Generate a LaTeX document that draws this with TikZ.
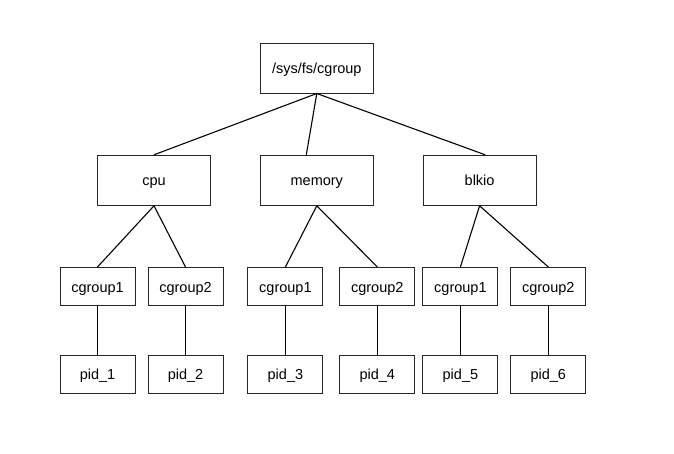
\documentclass[tikz,border=0pt]{standalone}
\usepackage{fontspec}
\setmainfont{Liberation Sans}
\usetikzlibrary{calc}

\begin{document}
\begin{tikzpicture}[x=1pt, y=-1pt]
    % ================= 样式定义 =================
    \tikzset{
        % 目录节点:白底黑边大矩形
        dirnode/.style={rectangle, draw=black!85, line width=1pt, fill=white, minimum width=113pt, minimum height=50pt, inner sep=0pt, text height=14pt, text depth=3pt, font=\fontsize{14.5}{17}\selectfont},
        % cgroup / pid 节点:小矩形
        leafnode/.style={dirnode, minimum width=75pt, minimum height=38pt},
        % 树边
        tree_edge/.style={line width=1.1pt, black}
    }
    \useasboundingbox (0,0) rectangle (674,453);

    % ================= 根节点 =================
    \node[dirnode] (root) at (316.8,68) {/sys/fs/cgroup};

    % ================= 子系统 =================
    \node[dirnode] (cpu) at (154,180.3) {cpu};
    \node[dirnode] (memory) at (316.8,180.3) {memory};
    \node[dirnode] (blkio) at (479.6,180.3) {blkio};

    \draw[tree_edge] (root.south) -- (cpu.north);
    \draw[tree_edge] (root.south) -- ([xshift=-10.5pt]memory.north);
    \draw[tree_edge] (root.south) -- ([xshift=5.6pt]blkio.north);

    % ================= cgroup 与 pid =================
    \foreach \x/\n/\c in {97.5/1/cgroup1, 185.5/2/cgroup2, 285.4/3/cgroup1, 377.3/4/cgroup2, 460.4/5/cgroup1, 548.3/6/cgroup2} {
        \node[leafnode] (cg\n) at (\x,286.5) {\c};
        \node[leafnode] (pid\n) at (\x,374) {pid\_\n};
        \draw[tree_edge] (cg\n) -- (pid\n);
    }

    % 子系统到 cgroup 的连线
    \foreach \p/\a/\b in {cpu/1/2, memory/3/4, blkio/5/6} {
        \draw[tree_edge] (\p.south) -- (cg\a.north) (\p.south) -- (cg\b.north);
    }

\end{tikzpicture}
\end{document}
